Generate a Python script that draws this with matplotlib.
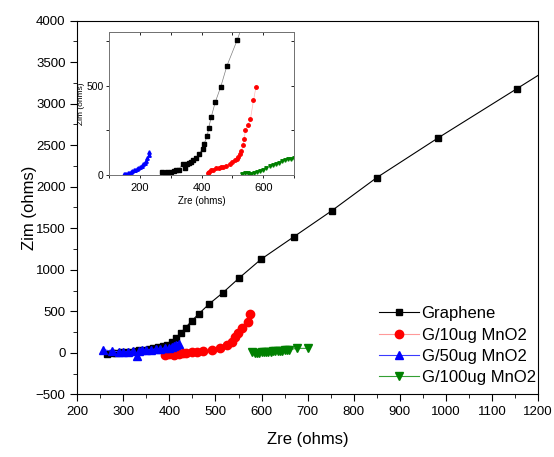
import matplotlib
matplotlib.use("Agg")
import matplotlib.pyplot as plt
from matplotlib.ticker import MultipleLocator

plt.rcParams["font.family"] = ["Liberation Sans", "DejaVu Sans"]

# main plot data (Nyquist, ohms)
gr_x = [265, 275, 285, 295, 305, 315, 325, 335, 345, 355, 365, 375, 385, 395, 405, 415,
        425, 435, 448, 464, 486, 516, 552, 599, 670, 752, 850, 984, 1154, 1350]
gr_y = [-15, -5, 0, 5, 10, 15, 20, 30, 40, 50, 55, 65, 80, 100, 130, 180,
        243, 303, 382, 471, 587, 724, 904, 1127, 1397, 1709, 2109, 2590, 3179, 3860]
g10_x = [390, 400, 410, 420, 430, 437, 450, 459, 473, 492, 510, 524, 535, 542, 549, 558, 570, 575]
g10_y = [-20, -15, -30, -10, -5, 0, 5, 6, 22, 34, 54, 94, 135, 195, 234, 294, 375, 466]
g50_x = [255, 275, 290, 300, 310, 320, 330, 335, 340, 350, 360, 370, 380, 390, 400, 405, 410, 415, 420]
g50_y = [40, 20, 15, 10, 15, 20, -35, 25, 30, 35, 40, 45, 50, 55, 60, 70, 80, 90, 110]
g100_x = [580, 585, 590, 595, 600, 605, 610, 615, 620, 625, 630, 635, 640, 645, 650, 655, 660, 676, 701]
g100_y = [5, -5, 0, 2, 5, 8, 10, 12, 15, 18, 20, 22, 25, 28, 30, 33, 38, 54, 54]

# inset data
in_gr_x = [272, 280, 288, 295, 302, 310, 316, 325, 338, 345, 352, 360, 365, 373, 381, 392,
           403, 408, 418, 423, 431, 444, 462, 482, 515, 545]
in_gr_y = [18, 12, 18, 10, 15, 20, 28, 30, 61, 37, 59, 65, 74, 85, 93, 120,
           148, 176, 217, 265, 324, 407, 494, 611, 754, 900]
in_g10_x = [420, 425, 431, 438, 447, 455, 462, 469, 478, 491, 500, 507, 513, 518, 524, 529,
            534, 538, 542, 550, 558, 568, 576]
in_g10_y = [9, 18, 28, 30, 37, 40, 43, 46, 52, 61, 72, 83, 92, 102, 118, 135,
            167, 204, 250, 280, 311, 417, 491]
in_g50_x = [148, 152, 156, 160, 165, 170, 175, 180, 185, 190, 195, 200, 205, 210, 215, 220, 224, 228, 230]
in_g50_y = [3, 5, 8, 10, 14, 18, 22, 26, 30, 35, 40, 45, 52, 60, 70, 80, 95, 110, 128]
in_g100_x = [530, 540, 550, 555, 560, 570, 580, 590, 600, 610, 620, 630, 640, 650, 660, 670, 680, 690, 700]
in_g100_y = [5, 10, 12, 5, 8, 10, 15, 22, 30, 40, 48, 55, 62, 70, 78, 85, 88, 92, 95]

labels = ["Graphene", "G/10ug MnO2", "G/50ug MnO2", "G/100ug MnO2"]
styles = [("k", "k", "s", 5.0), ("r", "#ff9999", "o", 6.0),
          ("b", "#3a3aff", "^", 6.0), ("#008000", "#33a033", "v", 6.0)]

fig = plt.figure(figsize=(5.54, 4.57), dpi=100)
ax = fig.add_axes([0.1395, 0.137, 0.8315, 0.818])
main = [(gr_x, gr_y), (g10_x, g10_y), (g50_x, g50_y), (g100_x, g100_y)]
for (x, y), (mc, lc, m, ms), lab in zip(main, styles, labels):
    ax.plot(x, y, color=lc, lw=0.8, marker=m, ms=ms, mfc=mc, mec=mc, label=lab)
ax.set_xlim(200, 1200); ax.set_ylim(-500, 4000)
ax.xaxis.set_major_locator(MultipleLocator(100)); ax.xaxis.set_minor_locator(MultipleLocator(50))
ax.yaxis.set_major_locator(MultipleLocator(500)); ax.yaxis.set_minor_locator(MultipleLocator(250))
ax.tick_params(which="both", direction="out", labelsize=9.5, top=False, right=False)
ax.tick_params(which="major", length=5); ax.tick_params(which="minor", length=3)
ax.set_xlabel("Zre (ohms)", fontsize=12, labelpad=10)
ax.set_ylabel("Zim (ohms)", fontsize=12, labelpad=-1)
ax.legend(loc="lower right", bbox_to_anchor=(1.015, 0.0), frameon=False, fontsize=12,
          handlelength=2.4, handletextpad=0.15, labelspacing=0.38, borderaxespad=0.15)

ins = fig.add_axes([0.197, 0.617, 0.334, 0.313])
inset = [(in_gr_x, in_gr_y), (in_g10_x, in_g10_y), (in_g50_x, in_g50_y), (in_g100_x, in_g100_y)]
for (x, y), (mc, lc, m, ms) in zip(inset, styles):
    ins.plot(x, y, color=lc, lw=0.5, alpha=0.7 if mc != "k" else 0.5, zorder=1)
    ins.plot(x, y, ls="none", marker=m, ms=2.5, mfc=mc, mec=mc, zorder=2)
ins.set_xlim(100, 700); ins.set_ylim(0, 800)
ins.xaxis.set_major_locator(MultipleLocator(200)); ins.xaxis.set_minor_locator(MultipleLocator(100))
ins.yaxis.set_major_locator(MultipleLocator(500)); ins.yaxis.set_minor_locator(MultipleLocator(250))
ins.tick_params(which="both", direction="out", labelsize=8, length=2.5, width=0.6)
ins.tick_params(axis="y", labelsize=7.5, pad=1.5)
for s in ins.spines.values():
    s.set_color("0.45"); s.set_linewidth(0.7)
# mirrored inward ticks on top and right of the inset
top = ins.secondary_xaxis("top")
top.xaxis.set_major_locator(MultipleLocator(200)); top.xaxis.set_minor_locator(MultipleLocator(100))
top.tick_params(which="both", direction="in", length=2.5, width=0.6, labeltop=False)
right = ins.secondary_yaxis("right")
right.yaxis.set_major_locator(MultipleLocator(500)); right.yaxis.set_minor_locator(MultipleLocator(250))
right.tick_params(which="both", direction="in", length=2.5, width=0.6, labelright=False)
for sec in (top, right):
    for s in sec.spines.values():
        s.set_color("0.45"); s.set_linewidth(0.7)
ins.set_xlabel("Zre (ohms)", fontsize=7, labelpad=2)
ins.set_ylabel("Zim (ohms)", fontsize=6, labelpad=1)

fig.savefig("out.png", dpi=100)
